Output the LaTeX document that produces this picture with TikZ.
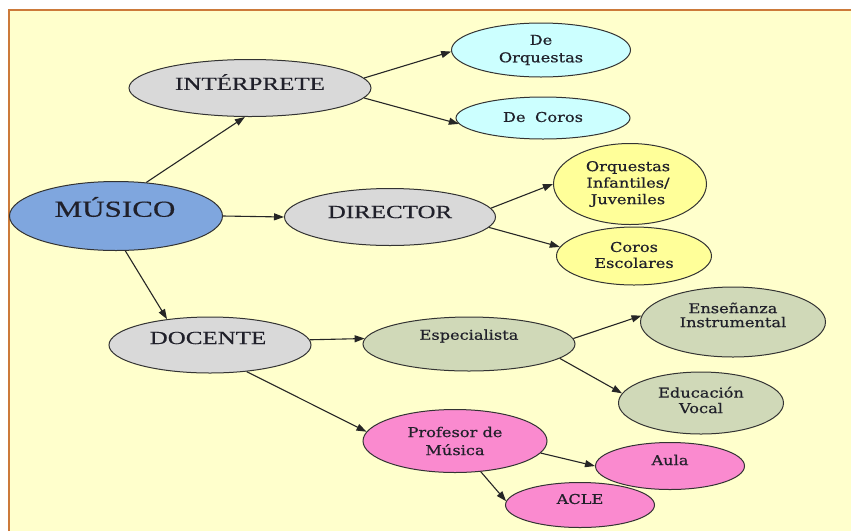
\documentclass[tikz,border=0pt]{standalone}
\usepackage{fontspec}
\usetikzlibrary{shapes.geometric,arrows.meta}
\newfontfamily\capf[FakeStretch=1.35,FakeBold=0.4]{Liberation Serif}
\newfontfamily\smf[FakeStretch=1.2,FakeBold=0.6]{DejaVu Serif}
\definecolor{bgc}{HTML}{FFFFCC}
\definecolor{brd}{HTML}{CC7A3A}
\definecolor{cblue}{HTML}{7FA6DE}
\definecolor{cgray}{HTML}{D9D9D9}
\definecolor{ccyan}{HTML}{CCFFFF}
\definecolor{cyel}{HTML}{FFFF99}
\definecolor{csage}{HTML}{D0D9B8}
\definecolor{cpink}{HTML}{FA8ACF}
\definecolor{outl}{HTML}{333333}
\definecolor{txtc}{HTML}{20202A}
\tikzset{
  ell/.style={ellipse, draw=outl, line width=1pt, inner sep=0pt},
  captxt/.style={text=txtc, inner sep=0pt, font=\capf\fontsize{18.5}{22}\selectfont},
  smtxt/.style={text=txtc, inner sep=0pt, align=center, font=\smf\fontsize{13.5}{16.5}\selectfont},
  arr/.style={draw=black!85, line width=1.1pt, -{Triangle[length=10pt,width=7pt]}}
}
\begin{document}
\begin{tikzpicture}[x=1pt,y=-1pt]
\useasboundingbox (0,0) rectangle (851,531);
\fill[white] (0,0) rectangle (851,531);
\fill[bgc] (9,10) rectangle (851,531);
\draw[brd, line width=1.2pt] (9,531) -- (9,10) -- (851,10);

% ellipses
\node[ell, fill=cblue, minimum width=213pt, minimum height=69pt] (mus) at (116,216) {};
\node[ell, fill=cgray, minimum width=242pt, minimum height=57pt] (int) at (250,88) {};
\node[ell, fill=cgray, minimum width=211pt, minimum height=57pt] (dir) at (390,217) {};
\node[ell, fill=cgray, minimum width=202pt, minimum height=56pt] (doc) at (210,345) {};
\node[ell, fill=ccyan, minimum width=179pt, minimum height=54pt] (dorq) at (541,50) {};
\node[ell, fill=ccyan, minimum width=174pt, minimum height=42pt] (dcor) at (543,118) {};
\node[ell, fill=cyel, minimum width=153pt, minimum height=81pt] (oinf) at (630,184) {};
\node[ell, fill=cyel, minimum width=155pt, minimum height=58pt] (cesc) at (634,256) {};
\node[ell, fill=csage, minimum width=212pt, minimum height=54pt] (esp) at (469,344) {};
\node[ell, fill=csage, minimum width=185pt, minimum height=70pt] (ens) at (733,322) {};
\node[ell, fill=csage, minimum width=165pt, minimum height=62pt] (edu) at (701,403) {};
\node[ell, fill=cpink, minimum width=184pt, minimum height=63pt] (prof) at (455,441) {};
\node[ell, fill=cpink, minimum width=149pt, minimum height=47pt] (aula) at (670,466) {};
\node[ell, fill=cpink, minimum width=149pt, minimum height=45pt] (acle) at (580,505) {};

% texts
\node[captxt, font=\capf\fontsize{23}{26}\selectfont] (tmus) at (115,207) {MÚSICO};
\node[captxt] (tint) at (250,82) {INTÉRPRETE};
\node[captxt] (tdir) at (390,212) {DIRECTOR};
\node[captxt] (tdoc) at (208,338) {DOCENTE};
\node[smtxt, font=\smf\fontsize{13.5}{17.5}\selectfont] (tdorq) at (541,50) {De\\Orquestas};
\node[smtxt] (tdcor) at (543,117) {De\hspace{0.7em}Coros};
\node[smtxt] (toinf) at (628,184) {Orquestas\\Infantiles/\\Juveniles};
\node[smtxt, font=\smf\fontsize{13.5}{16}\selectfont] (tcesc) at (634,255) {Coros\\Escolares};
\node[smtxt] (tesp) at (469,336) {Especialista};
\node[smtxt, font=\smf\fontsize{13.5}{14}\selectfont] (tens) at (733,315) {Enseñanza\\Instrumental};
\node[smtxt, font=\smf\fontsize{13.5}{15.5}\selectfont] (tedu) at (701,400) {Educación\\Vocal};
\node[smtxt, font=\smf\fontsize{13.5}{18}\selectfont] (tprof) at (455,441) {Profesor de\\Música};
\node[smtxt] (taula) at (670,460) {Aula};
\node[smtxt] (tacle) at (580,499) {ACLE};

% connectors
\draw[arr] (mus.48.6) -- (int.-100);
\draw[arr] (mus.0) -- (dir.180);
\draw[arr] (mus.-75.6) -- (doc.149.2);
\draw[arr] (int.5.2) -- (dorq.181);
\draw[arr] (int.-5.2) -- (dcor.184.4);
\draw[arr] (dir.5.4) -- (oinf.180);
\draw[arr] (dir.-6.2) -- (cesc.173.3);
\draw[arr] (doc.3.4) -- (esp.177.3);
\draw[arr] (doc.-36.9) -- (prof.174.5);
\draw[arr] (esp.3.8) -- (ens.176.9);
\draw[arr] (esp.-9.1) -- (edu.173.7);
\draw[arr] (prof.-8) -- (aula.180);
\draw[arr] (prof.-50) -- (acle.177);
\end{tikzpicture}
\end{document}
